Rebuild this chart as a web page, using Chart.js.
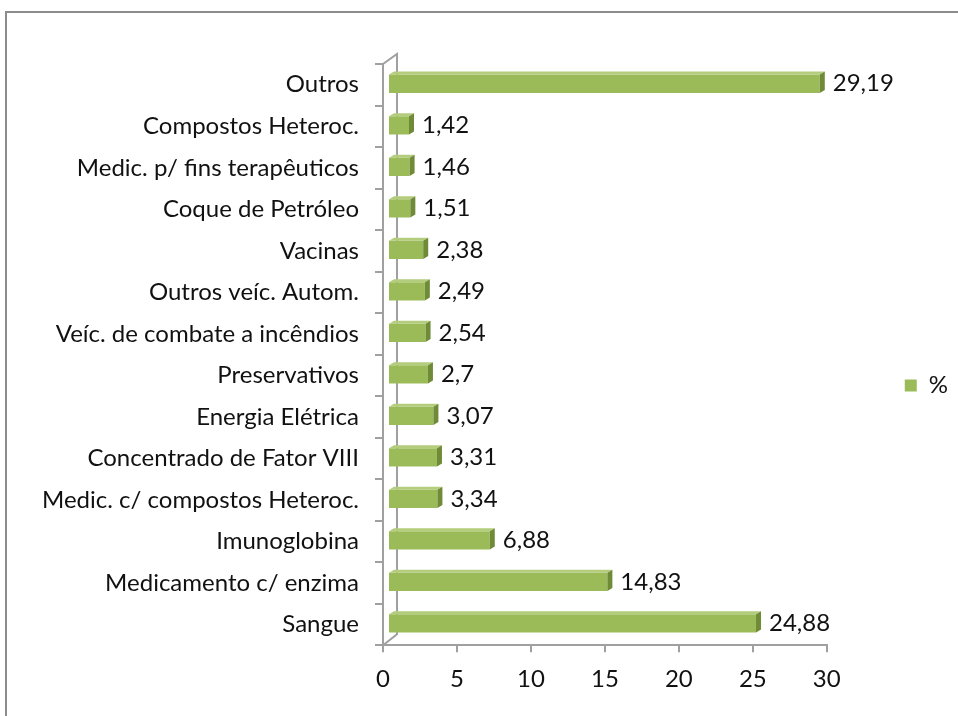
<!DOCTYPE html>
<html><head><meta charset="utf-8">
<script src="https://cdn.jsdelivr.net/npm/chart.js@4.4.0/dist/chart.umd.min.js"></script>
<style>
html,body{margin:0;padding:0;background:#fff;overflow:hidden}
#wrap{position:relative;width:958px;height:716px}
#frame{position:absolute;left:5px;top:11px;width:980px;height:740px;border:2px solid #8c8c8c;box-sizing:border-box}
canvas{position:absolute;left:0;top:0}
</style></head>
<body><div id="wrap"><div id="frame"></div><canvas id="c" width="958" height="716"></canvas></div>
<script>
const categories = ["Outros","Compostos Heteroc.","Medic. p/ fins terapêuticos","Coque de Petróleo","Vacinas","Outros veíc. Autom.","Veíc. de combate a incêndios","Preservativos","Energia Elétrica","Concentrado de Fator VIII","Medic. c/ compostos Heteroc.","Imunoglobina","Medicamento c/ enzima","Sangue"];
const values = [29.19,1.42,1.46,1.51,2.38,2.49,2.54,2.7,3.07,3.31,3.34,6.88,14.83,24.88];
const valueLabels = ["29,19","1,42","1,46","1,51","2,38","2,49","2,54","2,7","3,07","3,31","3,34","6,88","14,83","24,88"];
const xTicks = [0,5,10,15,20,25,30];
const seriesName = "%";

const FONT = "Lato, 'Liberation Sans', sans-serif";
const FS = 24;
const GREEN = "#9bbb59", SIDE = "#6f8b37", TOP = "#b3cd7c", AXIS = "#a0a0a0";
const DX = 5, DY = -1, D = 5; // bar offset and depth

const threeD = {
  id: 'threeD',
  beforeDatasetsDraw(chart) {
    const {ctx, chartArea: a} = chart;
    ctx.save();
    ctx.strokeStyle = AXIS; ctx.lineWidth = 2;
    ctx.beginPath();
    ctx.moveTo(a.left, a.top); ctx.lineTo(a.left + 14, a.top - 10);
    ctx.lineTo(a.left + 14, a.bottom - 11);
    ctx.lineTo(a.left, a.bottom);
    ctx.stroke();
    ctx.restore();
    ctx.save();
    ctx.translate(DX, DY);
  },
  afterDatasetsDraw(chart) {
    const {ctx} = chart;
    const meta = chart.getDatasetMeta(0);
    meta.data.forEach((bar, i) => {
      const h = bar.height, x0 = bar.base, x1 = bar.x, yt = bar.y - h/2, yb = bar.y + h/2;
      ctx.fillStyle = TOP;
      ctx.beginPath();
      ctx.moveTo(x0, yt); ctx.lineTo(x0 + D, yt - D*0.6); ctx.lineTo(x1 + D, yt - D*0.6); ctx.lineTo(x1, yt); ctx.closePath(); ctx.fill();
      ctx.fillStyle = SIDE;
      ctx.beginPath();
      ctx.moveTo(x1, yt); ctx.lineTo(x1 + D, yt - D*0.6); ctx.lineTo(x1 + D, yb - D*0.6); ctx.lineTo(x1, yb); ctx.closePath(); ctx.fill();
      ctx.fillStyle = "#111";
      ctx.font = FS + "px " + FONT;
      ctx.textAlign = "left"; ctx.textBaseline = "middle";
      ctx.fillText(valueLabels[i], x1 + D + 8, bar.y);
    });
    ctx.restore();
  }
};

new Chart(document.getElementById('c'), {
  type: 'bar',
  data: { labels: categories, datasets: [{ label: seriesName, data: values, backgroundColor: GREEN, borderWidth: 0, barPercentage: 0.44, categoryPercentage: 1 }] },
  options: {
    indexAxis: 'y', responsive: false, animation: false,
    layout: { padding: { left: 5, top: 64, right: 0, bottom: 9 } },
    scales: {
      x: { type: 'linear', min: 0, max: 30, afterBuildTicks: s => { s.ticks = xTicks.map(v => ({value: v})); },
        grid: { drawOnChartArea: false, drawTicks: true, tickLength: 7, color: AXIS, lineWidth: 2 },
        border: { display: true, color: AXIS, width: 2 },
        ticks: { color: '#111', font: { size: FS, family: FONT }, padding: 13 } },
      y: { grid: { drawOnChartArea: false, drawTicks: true, tickLength: 8, color: AXIS, lineWidth: 2, offset: true },
        border: { display: true, color: AXIS, width: 2 },
        afterFit: s => { s.width = 378; },
        ticks: { color: '#111', font: { size: FS, family: FONT }, padding: 16, autoSkip: false } }
    },
    plugins: {
      legend: { position: 'right', labels: { boxWidth: 12, boxHeight: 12, padding: 78, color: '#111', font: { size: FS, family: FONT } } },
      tooltip: { enabled: false }
    }
  },
  plugins: [threeD]
});
</script></body></html>
